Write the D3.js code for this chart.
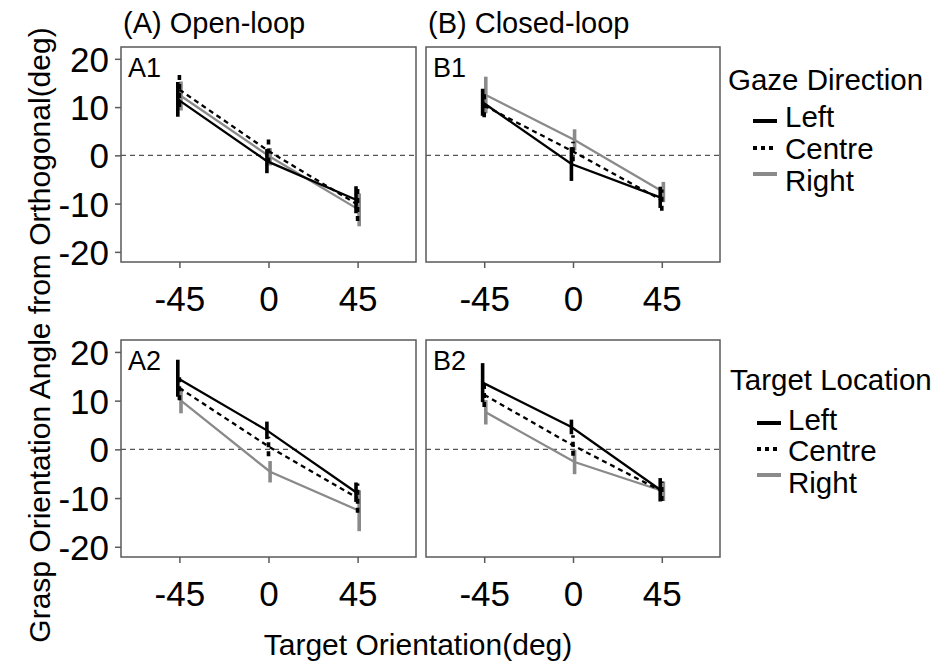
<!DOCTYPE html>
<html>
<head>
<meta charset="utf-8">
<script src="https://cdn.jsdelivr.net/npm/d3@7"></script>
<style>
  html, body { margin: 0; padding: 0; background: #fff; }
  svg { display: block; font-family: "Liberation Sans", Arial, Helvetica, sans-serif; }
</style>
</head>
<body>
<svg id="chart" width="935" height="667"></svg>
<script>
// ---------------- data ----------------
const orientations = [-45, 0, 45];
const xTicks = [-45, 0, 45];
const yTicks = [-20, -10, 0, 10, 20];
const levels = ["Left", "Centre", "Right"];

// A1: open-loop, by gaze direction
const a1Left = [11.6, -1.2, -9.2];
const a1LeftErr = [3.6, 2.5, 2.8];
const a1Centre = [13.6, 0.9, -10.2];
const a1CentreErr = [3.6, 2.4, 3.4];
const a1Right = [12.3, -0.3, -11.3];
const a1RightErr = [3.0, 1.8, 3.4];

// B1: closed-loop, by gaze direction
const b1Left = [11.0, -1.8, -8.7];
const b1LeftErr = [2.8, 3.5, 2.2];
const b1Centre = [10.3, 0.8, -9.3];
const b1CentreErr = [2.4, 2.0, 2.2];
const b1Right = [12.5, 3.2, -7.6];
const b1RightErr = [3.8, 2.2, 2.1];

// A2: open-loop, by target location
const a2Left = [14.6, 3.9, -8.8];
const a2LeftErr = [3.8, 1.8, 2.0];
const a2Centre = [12.6, 0.6, -10.0];
const a2CentreErr = [2.5, 2.0, 3.0];
const a2Right = [10.0, -4.6, -12.6];
const a2RightErr = [2.6, 2.2, 4.2];

// B2: closed-loop, by target location
const b2Left = [13.7, 4.6, -8.3];
const b2LeftErr = [4.0, 1.5, 2.4];
const b2Centre = [11.2, 0.8, -8.6];
const b2CentreErr = [2.5, 2.1, 2.0];
const b2Right = [7.6, -2.6, -8.6];
const b2RightErr = [2.5, 2.5, 2.0];

const panelTitles = ["(A) Open-loop", "(B) Closed-loop"];
const legendTitles = ["Gaze Direction", "Target Location"];
const xTitle = "Target Orientation(deg)";
const yTitle = "Grasp Orientation Angle from Orthogonal(deg)";

// ---------------- layout ----------------
const FONT = '"Liberation Sans", Arial, Helvetica, sans-serif';
const colors = { Left: "#000000", Centre: "#000000", Right: "#8a8a8a" };
const dashes = { Left: null, Centre: "5,4", Right: null };
const dodge = { Left: -0.8, Centre: 0, Right: 0.8 };

const panels = [
  { label: "A1", x0: 121, y0: 47, w: 295, h: 215, yTicks: true,
    series: { Left: [a1Left, a1LeftErr], Centre: [a1Centre, a1CentreErr], Right: [a1Right, a1RightErr] } },
  { label: "B1", x0: 426, y0: 47, w: 294, h: 215, yTicks: false,
    series: { Left: [b1Left, b1LeftErr], Centre: [b1Centre, b1CentreErr], Right: [b1Right, b1RightErr] } },
  { label: "A2", x0: 121, y0: 340, w: 295, h: 217, yTicks: true,
    series: { Left: [a2Left, a2LeftErr], Centre: [a2Centre, a2CentreErr], Right: [a2Right, a2RightErr] } },
  { label: "B2", x0: 426, y0: 340, w: 294, h: 217, yTicks: false,
    series: { Left: [b2Left, b2LeftErr], Centre: [b2Centre, b2CentreErr], Right: [b2Right, b2RightErr] } }
];

const svg = d3.select("#chart");

panels.forEach(p => {
  const x = d3.scaleLinear().domain([-74.5, 74.5]).range([0, p.w]);
  const y = d3.scaleLinear().domain([-22.1, 22.45]).range([p.h, 0]);
  const g = svg.append("g").attr("transform", `translate(${p.x0},${p.y0})`);

  // zero reference line
  g.append("line")
    .attr("x1", 0).attr("x2", p.w)
    .attr("y1", y(0)).attr("y2", y(0))
    .attr("stroke", "#555").attr("stroke-width", 1.2)
    .attr("stroke-dasharray", "5,4");

  // series (draw Right first so black lies on top)
  const order = ["Right", "Centre", "Left"];
  order.forEach(lv => {
    const [vals, errs] = p.series[lv];
    const pts = orientations.map((o, i) => ({ o, v: vals[i], e: errs[i] }));
    const line = d3.line().x(d => x(d.o + dodge[lv])).y(d => y(d.v));
    g.append("path").datum(pts)
      .attr("d", line)
      .attr("fill", "none")
      .attr("stroke", colors[lv])
      .attr("stroke-width", 2.3)
      .attr("stroke-dasharray", dashes[lv]);
    g.selectAll(null).data(pts).enter().append("line")
      .attr("x1", d => x(d.o + dodge[lv])).attr("x2", d => x(d.o + dodge[lv]))
      .attr("y1", d => y(d.v - d.e)).attr("y2", d => y(d.v + d.e))
      .attr("stroke", colors[lv])
      .attr("stroke-width", 3.6)
      .attr("stroke-dasharray", dashes[lv]);
  });

  // border
  g.append("rect").attr("x", 0).attr("y", 0).attr("width", p.w).attr("height", p.h)
    .attr("fill", "none").attr("stroke", "#5a5a5a").attr("stroke-width", 1.5);

  // panel label
  g.append("text").attr("x", 7).attr("y", 30).text(p.label)
    .attr("font-size", 27).attr("fill", "#000");

  // x axis
  const xAxis = d3.axisBottom(x).tickValues(xTicks).tickSize(6).tickPadding(18).tickFormat(d3.format("d"));
  const gx = g.append("g").attr("transform", `translate(0,${p.h})`).call(xAxis);
  gx.select(".domain").remove();
  gx.selectAll(".tick line").attr("stroke", "#5a5a5a").attr("stroke-width", 1.5);
  gx.selectAll(".tick text").attr("font-size", 35).attr("font-family", FONT).attr("fill", "#000")
    .text(d => d < 0 ? "-" + Math.abs(d) : d);

  if (p.yTicks) {
    const yAxis = d3.axisLeft(y).tickValues(yTicks).tickSize(6).tickPadding(6);
    const gy = g.append("g").call(yAxis);
    gy.select(".domain").remove();
    gy.selectAll(".tick line").attr("stroke", "#5a5a5a").attr("stroke-width", 1.5);
    gy.selectAll(".tick text").attr("font-size", 35).attr("font-family", FONT).attr("fill", "#000")
      .attr("dy", "0.36em")
      .text(d => d < 0 ? "-" + Math.abs(d) : d);
  }
});

// column titles
svg.append("text").attr("x", 123).attr("y", 33).text(panelTitles[0])
  .attr("font-size", 29).attr("fill", "#000");
svg.append("text").attr("x", 428).attr("y", 33).text(panelTitles[1])
  .attr("font-size", 29).attr("fill", "#000");

// axis titles
svg.append("text").attr("x", 418).attr("y", 655).attr("text-anchor", "middle")
  .text(xTitle).attr("font-size", 30).attr("fill", "#000");
svg.append("text").attr("transform", "translate(50,335) rotate(-90)")
  .attr("text-anchor", "middle").text(yTitle)
  .attr("font-size", 30).attr("fill", "#000");

// legends
const legends = [
  { title: legendTitles[0], tx: 728, ty: 90, keyY: [121, 148, 174], textY: [127, 159, 191], kx: 753, lx: 785 },
  { title: legendTitles[1], tx: 730, ty: 390, keyY: [423, 449, 475], textY: [430, 461, 493], kx: 757, lx: 788 }
];
legends.forEach(L => {
  svg.append("text").attr("x", L.tx).attr("y", L.ty).text(L.title)
    .attr("font-size", 29.5).attr("fill", "#000");
  levels.forEach((lv, i) => {
    svg.append("line")
      .attr("x1", L.kx).attr("x2", L.kx + 24)
      .attr("y1", L.keyY[i]).attr("y2", L.keyY[i])
      .attr("stroke", colors[lv]).attr("stroke-width", 4)
      .attr("stroke-dasharray", lv === "Centre" ? "4,4" : null);
    svg.append("text").attr("x", L.lx).attr("y", L.textY[i]).text(lv)
      .attr("font-size", 29.5).attr("fill", "#000");
  });
});
</script>
</body>
</html>
